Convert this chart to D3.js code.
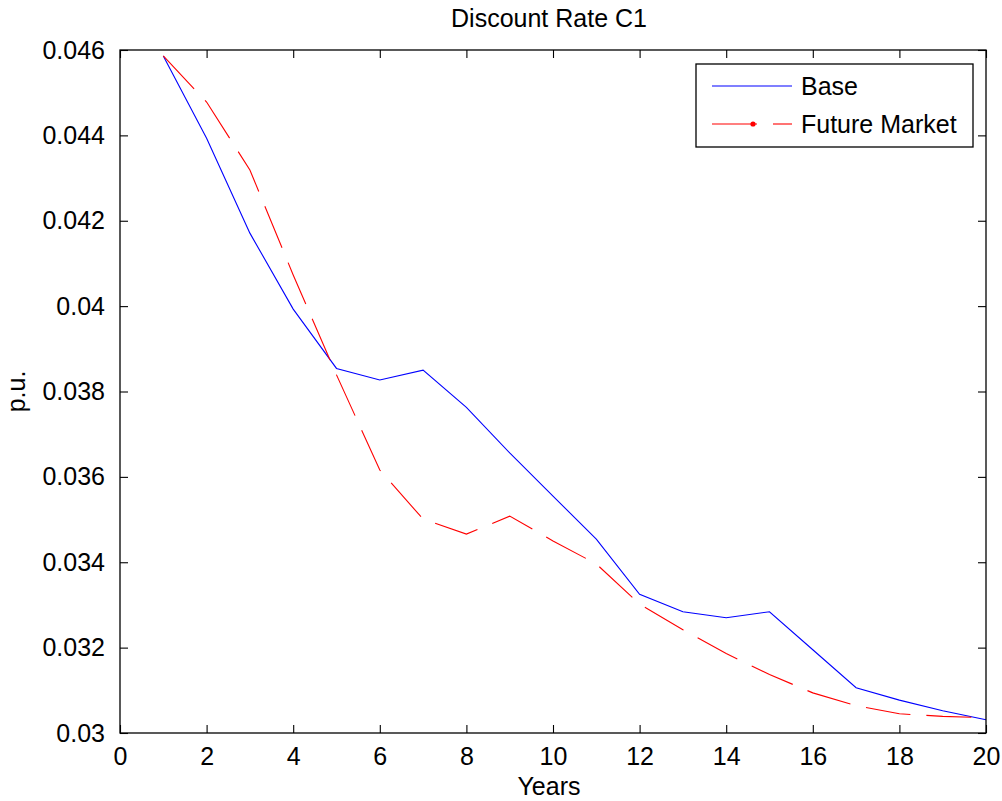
<!DOCTYPE html>
<html>
<head>
<meta charset="utf-8">
<script src="https://cdn.jsdelivr.net/npm/d3@7"></script>
<style>
  html, body { margin: 0; padding: 0; background: #fff; }
  svg { display: block; font-family: "Liberation Sans", Arial, sans-serif; }
</style>
</head>
<body>
<svg id="chart" width="1002" height="801"></svg>
<script>
const years = [1,2,3,4,5,6,7,8,9,10,11,12,13,14,15,16,17,18,19,20];
const baseValues = [0.04586,0.04393,0.04171,0.03993,0.03854,0.03827,0.0385,0.03763,0.03656,0.03555,0.03454,0.03325,0.03284,0.0327,0.03284,0.03195,0.03106,0.03077,0.03052,0.03031];
const futureValues = [0.04586,0.04478,0.04319,0.04073,0.03839,0.03616,0.03501,0.03466,0.03508,0.0345,0.03396,0.03302,0.03242,0.03186,0.03137,0.03094,0.03064,0.03045,0.03039,0.03036];
const xTicks = [0,2,4,6,8,10,12,14,16,18,20];
const yTicks = [0.03,0.032,0.034,0.036,0.038,0.04,0.042,0.044,0.046];
const seriesNames = ["Base","Future Market"];
const titleText = "Discount Rate C1";
const xLabel = "Years";
const yLabel = "p.u.";

const svg = d3.select("#chart");
const L = 120, R = 986, T = 50, B = 733;
const x = d3.scaleLinear().domain([0,20]).range([L,R]);
const y = d3.scaleLinear().domain([0.03,0.046]).range([B,T]);
const fs = 25;
const tickLen = 8;
const fmt = v => String(+v.toFixed(3));

// lines
const line = d3.line().x((d,i)=>x(years[i])).y(d=>y(d));
svg.append("path").datum(baseValues).attr("d", line)
  .attr("fill","none").attr("stroke","#0000ff").attr("stroke-width",1.1);
svg.append("path").datum(futureValues).attr("d", line)
  .attr("fill","none").attr("stroke","#ff0000").attr("stroke-width",1.1)
  .attr("stroke-dasharray","45,16");

// axes box
svg.append("rect").attr("x",L).attr("y",T).attr("width",R-L).attr("height",B-T)
  .attr("fill","none").attr("stroke","#000").attr("stroke-width",1.3);

// ticks (inward, all four sides)
const axB = d3.axisBottom(x).tickValues(xTicks).tickSizeInner(-tickLen).tickSizeOuter(0).tickPadding(14).tickFormat(d3.format("d"));
const axT = d3.axisTop(x).tickValues(xTicks).tickSizeInner(-tickLen).tickSizeOuter(0).tickFormat("");
const axL = d3.axisLeft(y).tickValues(yTicks).tickSizeInner(-tickLen).tickSizeOuter(0).tickPadding(15).tickFormat(fmt);
const axR = d3.axisRight(y).tickValues(yTicks).tickSizeInner(-tickLen).tickSizeOuter(0).tickFormat("");

function styleAxis(g){
  g.select(".domain").remove();
  g.selectAll(".tick line").attr("stroke","#000").attr("stroke-width",1.1);
  g.selectAll(".tick text").attr("fill","#000").style("font-size",fs+"px")
   .style("font-family",'"Liberation Sans", Arial, sans-serif');
}
svg.append("g").attr("transform",`translate(0,${B})`).call(axB).call(styleAxis);
svg.append("g").attr("transform",`translate(0,${T})`).call(axT).call(styleAxis);
svg.append("g").attr("transform",`translate(${L},0)`).call(axL).call(styleAxis);
svg.append("g").attr("transform",`translate(${R},0)`).call(axR).call(styleAxis);

// title & labels
svg.append("text").attr("x",(L+R)/2 - 4).attr("y",27).attr("text-anchor","middle")
  .style("font-size",fs+"px").text(titleText);
svg.append("text").attr("x",(L+R)/2 - 4).attr("y",795).attr("text-anchor","middle")
  .style("font-size",fs+"px").text(xLabel);
svg.append("text").attr("transform",`translate(25,${(T+B)/2}) rotate(-90)`).attr("text-anchor","middle")
  .style("font-size",fs+"px").text(yLabel);

// legend
const lg = svg.append("g");
lg.append("rect").attr("x",696).attr("y",64).attr("width",277).attr("height",83)
  .attr("fill","#fff").attr("stroke","#000").attr("stroke-width",1.3);
lg.append("line").attr("x1",712).attr("x2",792).attr("y1",86).attr("y2",86)
  .attr("stroke","#0000ff").attr("stroke-width",1.1);
lg.append("line").attr("x1",712).attr("x2",757).attr("y1",124).attr("y2",124)
  .attr("stroke","#ff0000").attr("stroke-width",1.1);
lg.append("line").attr("x1",773).attr("x2",792).attr("y1",124).attr("y2",124)
  .attr("stroke","#ff0000").attr("stroke-width",1.1);
lg.append("circle").attr("cx",753).attr("cy",124).attr("r",2.6).attr("fill","#ff0000");
lg.selectAll("text.lt").data(seriesNames).enter().append("text")
  .attr("x",801).attr("y",(d,i)=>95+i*38).style("font-size",fs+"px").text(d=>d);
</script>
</body>
</html>
